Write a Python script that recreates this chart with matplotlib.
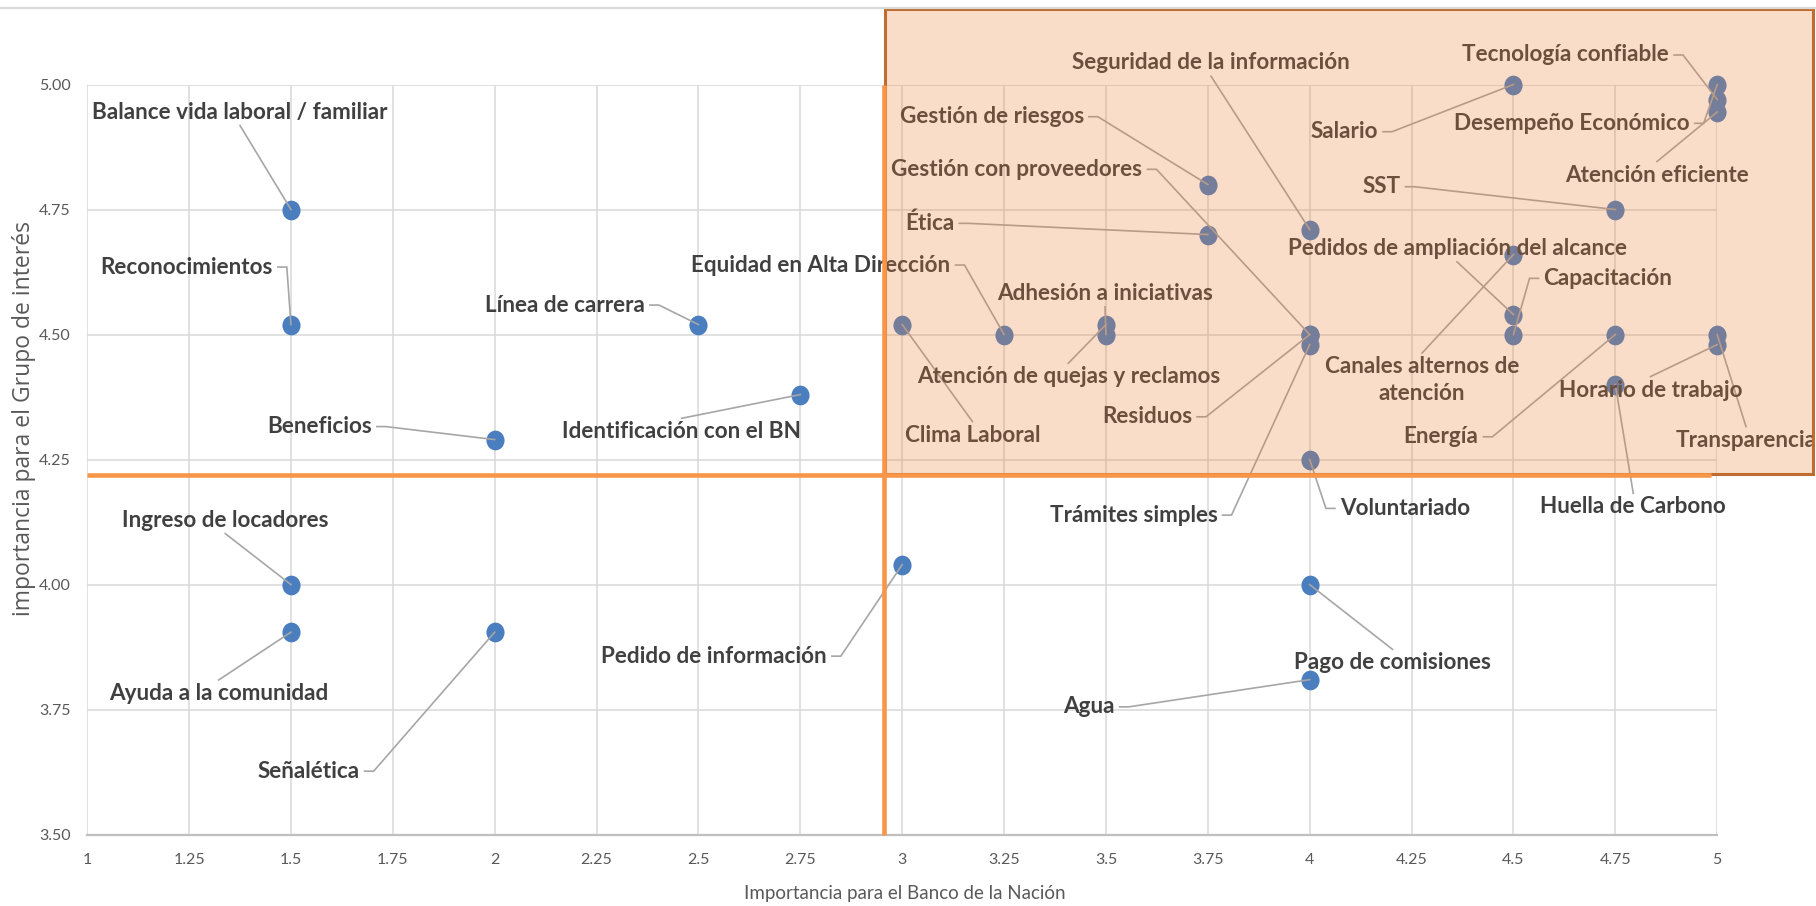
import matplotlib
matplotlib.use("Agg")
import matplotlib.pyplot as plt
from matplotlib.patches import Rectangle
from matplotlib.path import Path
import numpy as np

# ---- data -------------------------------------------------------------
temas = [
    "Balance vida laboral / familiar", "Reconocimientos", "Línea de carrera",
    "Beneficios", "Identificación con el BN", "Equidad en Alta Dirección",
    "Adhesión a iniciativas", "Atención de quejas y reclamos", "Clima Laboral",
    "Gestión de riesgos", "Gestión con proveedores", "Ética",
    "Seguridad de la información", "Salario", "Tecnología confiable",
    "Desempeño Económico", "Atención eficiente", "SST",
    "Pedidos de ampliación del alcance", "Canales alternos de\natención",
    "Capacitación", "Energía", "Horario de trabajo", "Transparencia",
    "Huella de Carbono", "Residuos", "Trámites simples", "Voluntariado",
    "Pedido de información", "Pago de comisiones", "Agua",
    "Ingreso de locadores", "Ayuda a la comunidad", "Señalética",
]
imp_banco = [1.5, 1.5, 2.5, 2.0, 2.75, 3.25, 3.5, 3.5, 3.0, 3.75, 4.0, 3.75,
             4.0, 4.5, 5.0, 5.0, 5.0, 4.75, 4.5, 4.5, 4.5, 4.75, 5.0, 5.0,
             4.75, 4.0, 4.0, 4.0, 3.0, 4.0, 4.0, 1.5, 1.5, 2.0]
imp_grupo = [4.75, 4.52, 4.52, 4.29, 4.38, 4.50, 4.50, 4.52, 4.52, 4.80, 4.50,
             4.70, 4.71, 5.00, 4.97, 5.00, 4.945, 4.75, 4.54, 4.66, 4.50, 4.50,
             4.48, 4.50, 4.40, 4.50, 4.48, 4.25, 4.04, 4.00, 3.81, 4.00,
             3.905, 3.905]

x_ticks = np.arange(1.0, 5.001, 0.25)
y_ticks = np.arange(3.5, 5.001, 0.25)

# quadrant thresholds and the highlighted (priority) region
corte_banco = 2.955
corte_grupo = 4.22
fin_linea_h = 4.985
zona_x = (2.957, 5.235)
zona_y = (4.221, 5.150)

# ---- label layout: text centre (data units) and side the leader leaves from
label_xy = [
    (1.375, 4.945), (1.244, 4.635), (2.1725, 4.559), (1.570, 4.316),
    (2.4587, 4.3056), (2.8007, 4.639), (3.4977, 4.5824), (3.4076, 4.4156),
    (3.1725, 4.299), (3.2196, 4.9356), (3.2817, 4.8304), (3.0675, 4.7224),
    (3.7578, 5.0436), (4.0849, 4.9056), (4.6282, 5.059), (4.6432, 4.9224),
    (4.8523, 4.819), (4.1762, 4.7956), (4.3615, 4.6724), (4.2756, 4.409),
    (4.732, 4.6124), (4.3222, 4.2956), (4.8364, 4.389), (5.0707, 4.289),
    (4.794, 4.1556), (3.6007, 4.3356), (3.5678, 4.139), (4.2339, 4.1524),
    (2.5382, 3.857), (4.2032, 3.8436), (3.4584, 3.7556), (1.3389, 4.129),
    (1.3227, 3.7824), (1.5433, 3.627),
]
label_side = [
    "b", "r", "r", "r", "t", "r", "b", "t", "t", "r", "r", "r",
    "b", "r", "r", "r", "t", "r", "b", "t", "l", "r", "t", "t",
    "t", "r", "r", "l", "r", "t", "r", "b", "t", "r",
]

# ---- style ------------------------------------------------------------
AZUL = "#4a7ebf"
TEXTO = "#404040"
GRIS_EJE = "#595959"
GRID = "#d9d9d9"
LIDER = "#a6a6a6"
NARANJA = "#f79646"
ZONA = "#ed7d31"
BORDE_ZONA = "#bf6c30"
FUENTE = ["Lato", "DejaVu Sans"]

plt.rcParams["font.family"] = FUENTE

W, H = 1816, 906
fig = plt.figure(figsize=(W / 100, H / 100), dpi=100)
fig.patch.set_facecolor("white")
ax = fig.add_axes([87.2 / W, 1 - 834.7 / H, 1630.0 / W, 750.2 / H])

ax.set_xlim(1, 5)
ax.set_ylim(3.5, 5.0)
ax.set_xticks(x_ticks)
ax.set_xticklabels([f"{v:g}" for v in x_ticks])
ax.set_yticks(y_ticks)
ax.set_yticklabels([f"{v:.2f}" for v in y_ticks])
ax.tick_params(length=0, labelsize=11.5, labelcolor=GRIS_EJE)
ax.tick_params(axis="x", pad=13)
ax.tick_params(axis="y", pad=12)
ax.grid(True, color=GRID, lw=1.1, zorder=0)
ax.set_axisbelow(True)
for s in ("top", "right", "left"):
    ax.spines[s].set_visible(False)
ax.spines["bottom"].set_color("#bfbfbf")
ax.spines["bottom"].set_linewidth(1.6)

# chart frame (top edge)
fig.add_artist(plt.Line2D([0, 1], [1 - 7.5 / H, 1 - 7.5 / H],
                          transform=fig.transFigure, color=GRID, lw=1.6))

# quadrant dividers
ax.plot([corte_banco, corte_banco], [3.5, 5.0], color=NARANJA, lw=3.3,
        solid_capstyle="butt", zorder=12, clip_on=False)
ax.plot([1.0, fin_linea_h], [corte_grupo, corte_grupo], color=NARANJA, lw=3.3,
        solid_capstyle="butt", zorder=12, clip_on=False)

# markers (slightly taller than wide)
circ = Path.unit_circle()
elipse = Path(circ.vertices * np.array([0.92, 1.0]), circ.codes)
ax.plot(imp_banco, imp_grupo, linestyle="none", marker=elipse,
        markersize=14.2, color=AZUL, markeredgewidth=0, zorder=3,
        clip_on=False)

# data labels
textos = []
for nombre, (tx, ty) in zip(temas, label_xy):
    t = ax.text(tx, ty, nombre, ha="center", va="center",
                multialignment="center", fontsize=16.2, fontweight="bold",
                color=TEXTO, linespacing=1.35, zorder=5, clip_on=False)
    textos.append(t)

# leader lines from each label to its point
fig.canvas.draw()
rend = fig.canvas.get_renderer()
inv = ax.transData.inverted()
GAP, TICK = 5, 9
for t, side, px, py in zip(textos, label_side, imp_banco, imp_grupo):
    bb = t.get_window_extent(rend)
    pdx, pdy = ax.transData.transform((px, py))
    ym = (bb.y0 + bb.y1) / 2
    xm = (bb.x0 + bb.x1) / 2
    if side == "r":
        pts = [(bb.x1 + GAP, ym), (bb.x1 + GAP + TICK, ym), (pdx, pdy)]
    elif side == "l":
        pts = [(bb.x0 - GAP, ym), (bb.x0 - GAP - TICK, ym), (pdx, pdy)]
    elif side == "t":
        pts = [(xm, bb.y1 + 3), (pdx, pdy)]
    else:
        pts = [(xm, bb.y0 - 3), (pdx, pdy)]
    d = inv.transform(pts)
    ax.plot(d[:, 0], d[:, 1], color=LIDER, lw=1.2, zorder=4, clip_on=False,
            solid_joinstyle="miter")

# highlighted region (translucent fill over everything it covers)
ax.add_patch(Rectangle((zona_x[0], zona_y[0]), zona_x[1] - zona_x[0],
                       zona_y[1] - zona_y[0], facecolor=ZONA, alpha=0.26,
                       edgecolor="none", zorder=10, clip_on=False))
ax.add_patch(Rectangle((zona_x[0], zona_y[0]), zona_x[1] - zona_x[0],
                       zona_y[1] - zona_y[0], fill=False,
                       edgecolor=BORDE_ZONA, lw=2.2, zorder=11, clip_on=False))

# axis titles
fig.text(905 / W, 1 - 893 / H, "Importancia para el Banco de la Nación",
         ha="center", va="center", fontsize=13.5, color=GRIS_EJE)
fig.text(24 / W, 1 - 418 / H, "importancia para el Grupo de interés",
         ha="center", va="center", rotation=90, fontsize=16.5,
         color=GRIS_EJE, family=["Open Sans", "DejaVu Sans"])

fig.savefig("out.png", dpi=100, facecolor="white")
